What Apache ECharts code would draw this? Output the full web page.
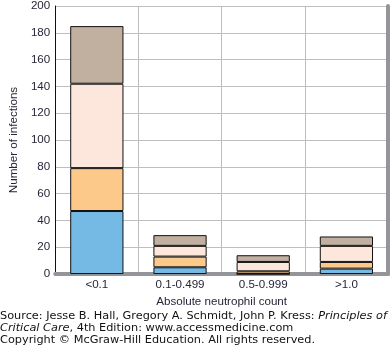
<!DOCTYPE html>
<html><head><meta charset="utf-8">
<script src="https://cdn.jsdelivr.net/npm/echarts@6/dist/echarts.min.js"></script>
<style>html,body{margin:0;padding:0;background:#fff}#c{width:392px;height:350px}</style>
</head><body><div id="c"></div>
<script>
const categories = ['<0.1', '0.1-0.499', '0.5-0.999', '>1.0'];
const blueVals = [47, 5, 0, 4];
const orangeVals = [32, 8, 2, 5];
const pinkVals = [63, 8, 7, 12];
const brownVals = [43, 8, 5, 7];
const yMin = 0, yMax = 200, yStep = 20;

const chart = echarts.init(document.getElementById('c'), null, {renderer: 'canvas'});
const txt = '#26263a';
const font = 'Liberation Sans';
const fs = 11.6;
function ser(name, data, color) {
  return {name, type: 'bar', stack: 's', data, barWidth: '64%',
    itemStyle: {color, borderColor: '#111', borderWidth: 1}, silent: true};
}
chart.setOption({
  animation: false,
  grid: {left: 42, top: 4, width: 346, height: 270},
  xAxis: [{
    type: 'category', data: categories, position: 'bottom',
    axisLine: {lineStyle: {color: '#111', width: 1}},
    axisTick: {show: false},
    axisLabel: {color: txt, fontSize: fs, fontFamily: font, margin: 5},
    splitLine: {show: true, lineStyle: {color: '#bcbec0', width: 1}},
    name: 'Absolute neutrophil count', nameLocation: 'middle', nameGap: 20,
    nameTextStyle: {color: txt, fontSize: fs, fontFamily: font}
  }, {
    type: 'category', data: categories, position: 'top',
    axisLine: {lineStyle: {color: '#939598', width: 4}},
    axisTick: {show: false}, axisLabel: {show: false}
  }],
  yAxis: [{
    type: 'value', min: yMin, max: yMax, interval: yStep, position: 'left',
    axisLine: {show: true, lineStyle: {color: '#111', width: 1}},
    axisTick: {show: false},
    axisLabel: {color: txt, fontSize: fs, fontFamily: font, margin: 5},
    splitLine: {show: true, lineStyle: {color: '#bcbec0', width: 1}},
    name: 'Number of infections', nameLocation: 'middle', nameGap: 34,
    nameTextStyle: {color: txt, fontSize: fs, fontFamily: font}
  }, {
    type: 'value', min: yMin, max: yMax, interval: yStep, position: 'right',
    axisLine: {show: true, lineStyle: {color: '#939598', width: 4}},
    axisTick: {show: false}, axisLabel: {show: false}, splitLine: {show: false}
  }],
  series: [
    ser('blue', blueVals, '#75b9e5'),
    ser('orange', orangeVals, '#fdc98b'),
    ser('pink', pinkVals, '#fde6dc'),
    ser('brown', brownVals, '#c1b0a0')
  ],
  graphic: [{
    type: 'text', left: 0, top: 311,
    style: {
      rich: {
        n: {fontFamily: 'DejaVu Sans', fontSize: 11.3, fill: '#111', lineHeight: 12},
        i: {fontFamily: 'DejaVu Sans', fontStyle: 'italic', fontSize: 11.3, fill: '#111', lineHeight: 12}
      },
      text: '{n|Source: Jesse B. Hall, Gregory A. Schmidt, John P. Kress: }{i|Principles of}\n{i|Critical Care}{n|, 4th Edition: www.accessmedicine.com}\n{n|Copyright © McGraw-Hill Education. All rights reserved.}'
    }
  }]
});
</script></body></html>
